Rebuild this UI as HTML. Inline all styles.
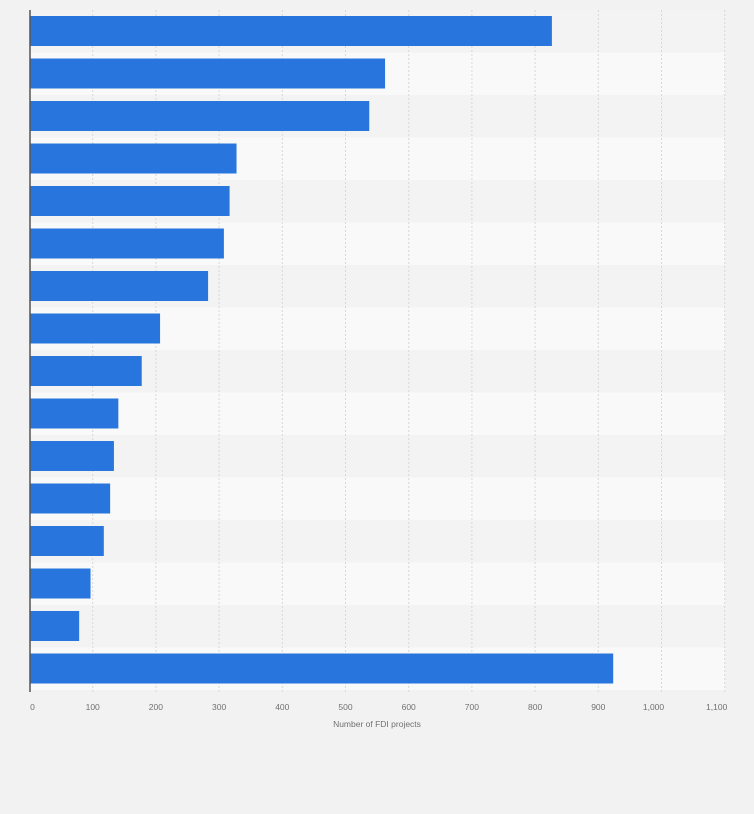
<!DOCTYPE html>
<html><head><style>
body{margin:0;background:#f2f2f2;width:754px;height:809px;overflow:hidden;font-family:"Liberation Sans",sans-serif;}
</style></head><body>
<svg width="754" height="809" xmlns="http://www.w3.org/2000/svg">
<rect width="754" height="809" fill="#f2f2f2"/>
<g id="bands"></g>
<g id="grid"></g>
<g id="bars"></g>
<line x1="30" y1="10" x2="30" y2="692" stroke="#555" stroke-width="1.5"/>
<g font-size="8.5" fill="#707070" text-anchor="middle" id="ticks"></g>
<text x="377" y="727" font-size="8.5" fill="#707070" text-anchor="middle">Number of FDI projects</text>
</svg>
<script>
var ns="http://www.w3.org/2000/svg";
function el(p,t,a){var e=document.createElementNS(ns,t);for(var k in a)e.setAttribute(k,a[k]);document.getElementById(p).appendChild(e);return e;}
var vals=[825,561,536,326,315,306,281,205,176,139,132,126,116,95,77,922];
var rh=42.5,y0=10,s=0.632,x0=29.5;
for(var i=0;i<16;i++){
 el("bands","rect",{x:30,y:y0+i*rh,width:695,height:rh,fill:i%2?"#f9f9f9":"#f3f3f3"});
 el("bars","rect",{x:30,y:y0+i*rh+6,width:vals[i]*s+0.5,height:30,fill:"#2876dd"});
}
for(var v=100;v<=1100;v+=100){
 var x=x0+v*s;
 el("grid","line",{x1:x,y1:10,x2:x,y2:692,stroke:"#d8d8d8","stroke-dasharray":"2,2","stroke-width":1});
}
var labs=["0","100","200","300","400","500","600","700","800","900","1,000","1,100"];
for(var j=0;j<12;j++){
 var x=x0+j*100*s; if(j==0)x+=3; if(j>=10)x-=8;
 var t=el("ticks","text",{x:x,y:710});t.textContent=labs[j];
}
</script>
</body></html>
